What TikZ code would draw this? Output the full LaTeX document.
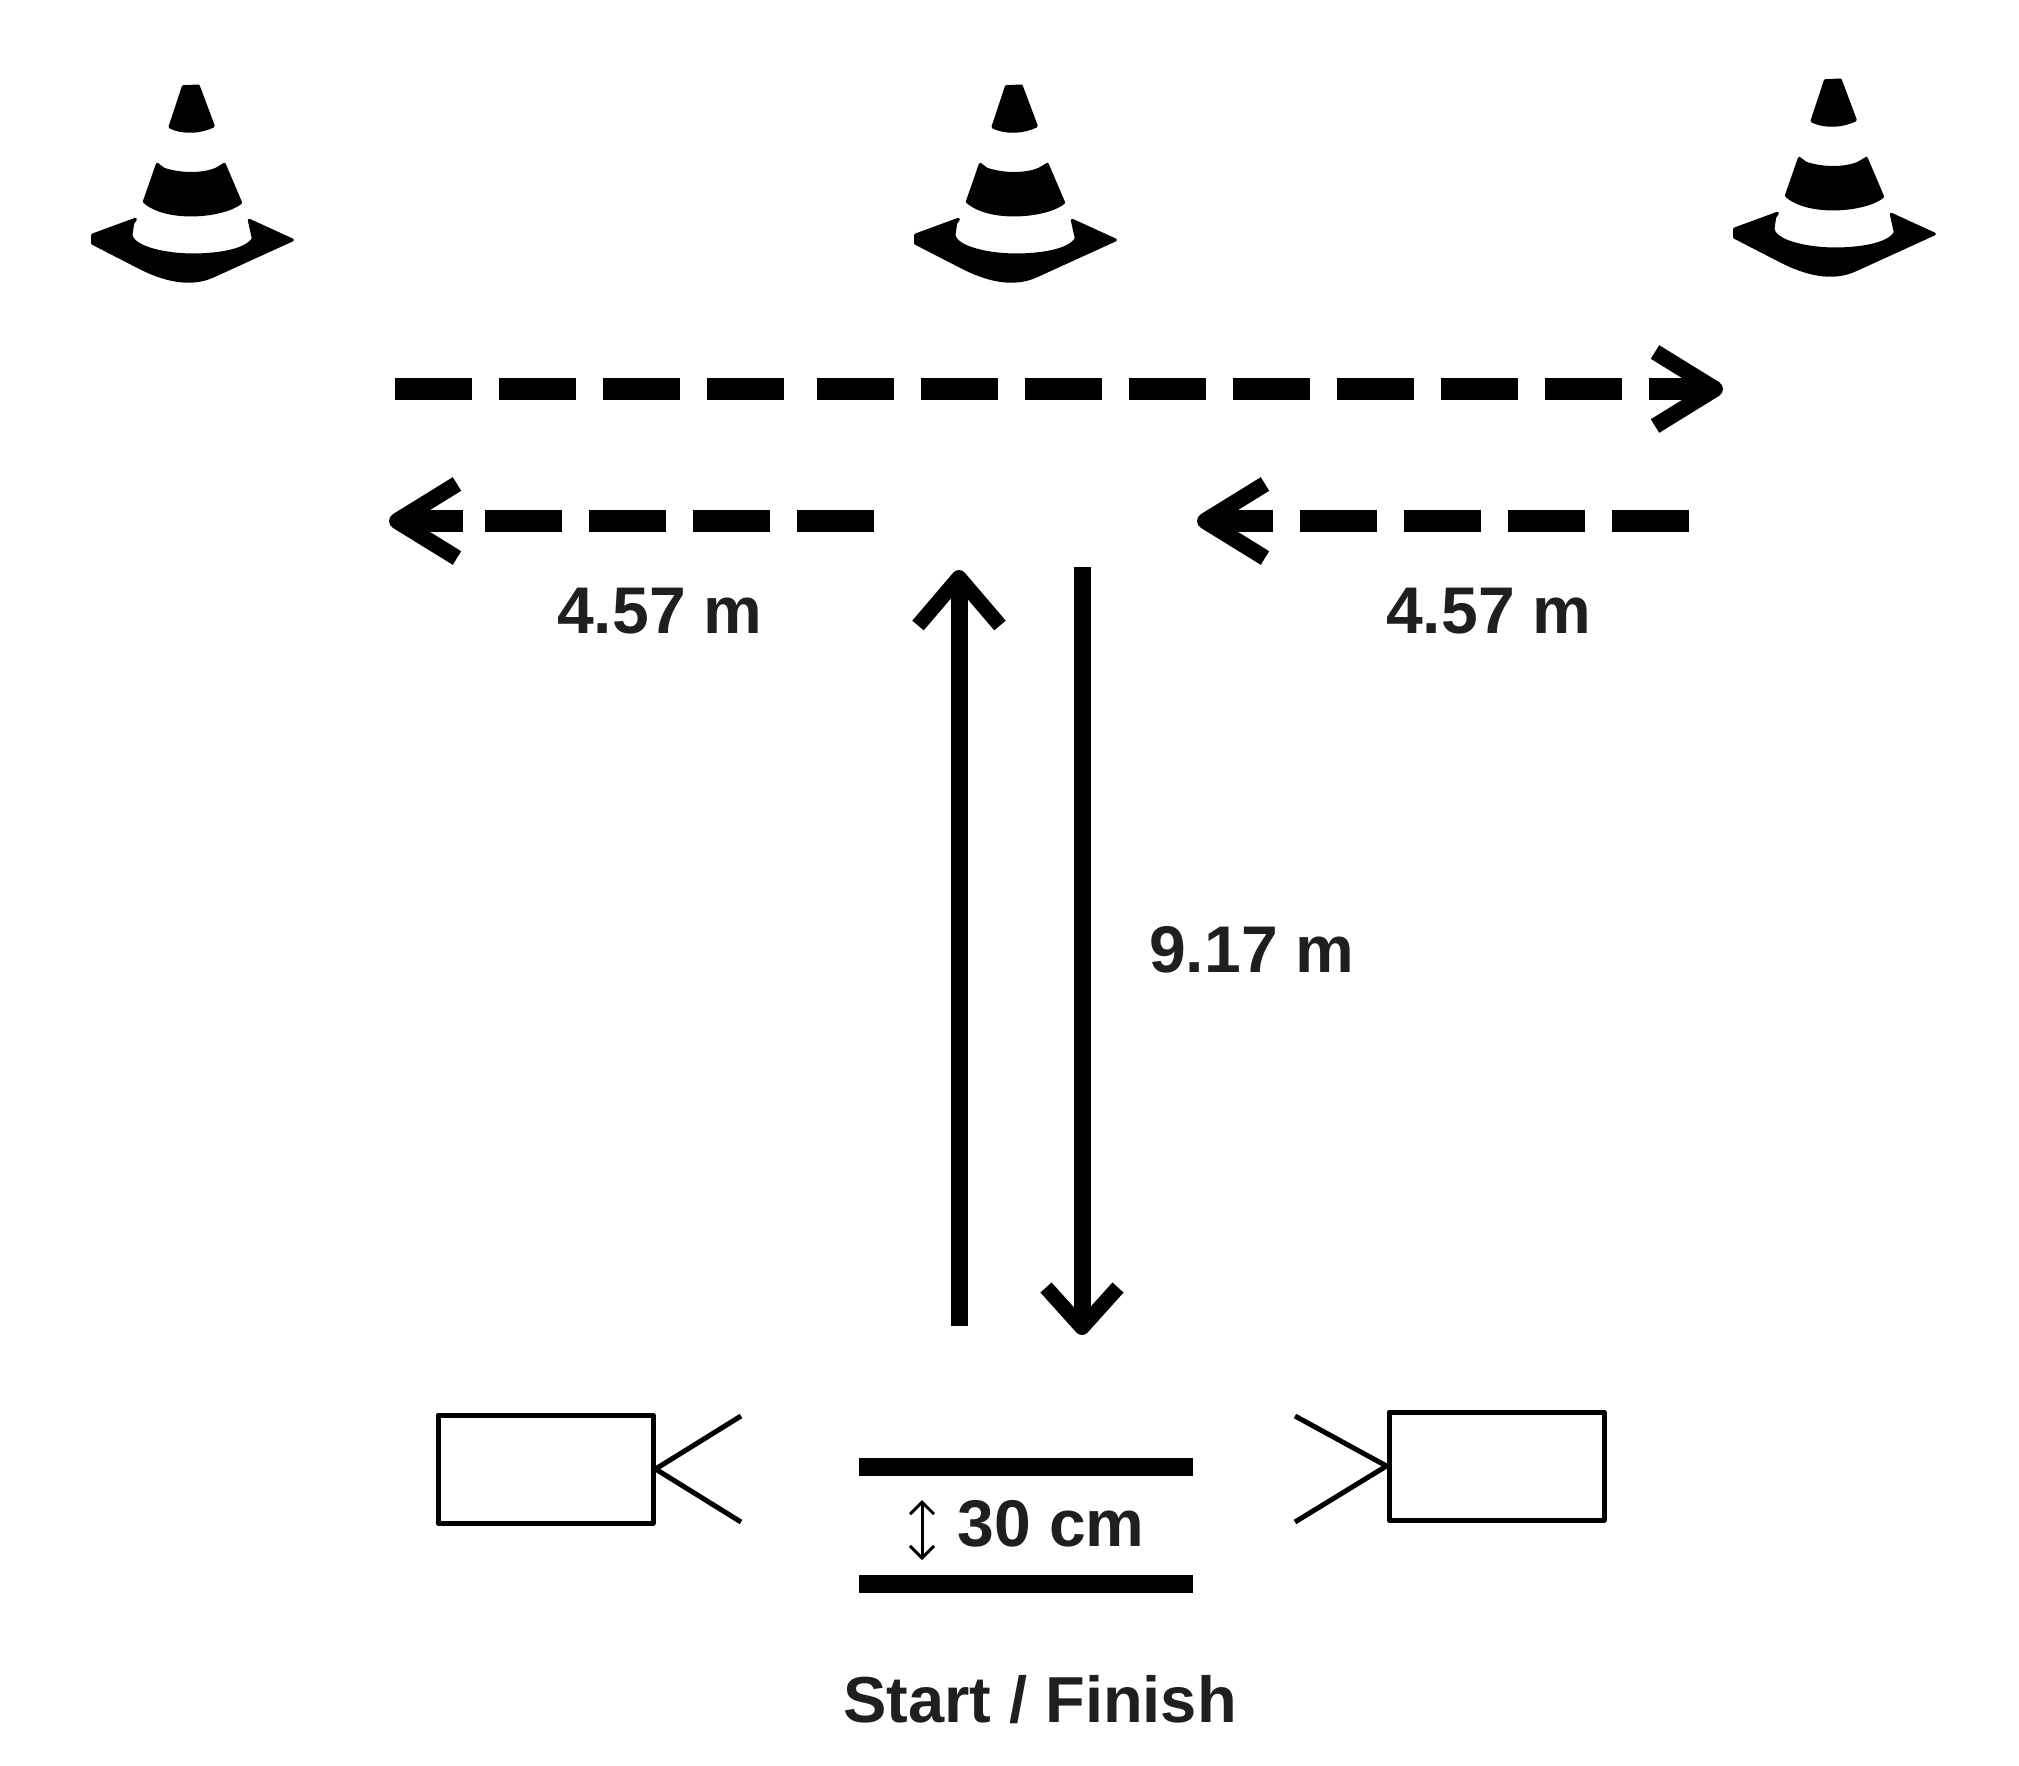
\documentclass[tikz,border=0pt]{standalone}
\usepackage{fontspec}
\setmainfont{Liberation Sans}
\usetikzlibrary{arrows.meta}
\tikzset{
  lab/.style={font=\fontsize{66}{78}\selectfont\bfseries, text=black!88, anchor=base, inner sep=0pt},
  labsf/.style={font=\fontsize{65}{78}\selectfont\bfseries, text=black!88, anchor=base, inner sep=0pt},
  dashline/.style={line width=22pt, draw=black},
  flow/.style={line width=17pt, draw=black},
  hbar/.style={line width=18pt, draw=black},
  cam/.style={draw=black, line width=5pt, minimum width=215pt, minimum height=108pt, inner sep=0pt, line join=round},
  lens/.style={draw=black, line width=5pt},
  cone/.pic={
    \begin{scope}[xscale=0.3333,yscale=0.3333,line width=3pt,line join=round,fill=black,draw=black]
    \filldraw (340,80)--(385,78)--(430,198) .. controls (395,215) and (345,222) .. (300,201)--cycle;
    \filldraw (262,313)--(280,327) .. controls (330,345) and (400,345) .. (440,327)--(463,313)--(512,428) .. controls (460,470) and (290,485) .. (223,425)--cycle;
    \filldraw (196,478)--(68,525)--(68,550)--(200,618) .. controls (280,660) and (360,680) .. (430,648)--(667,540)--(538,481)--(550,535) .. controls (530,575) and (430,585) .. (370,585) .. controls (290,585) and (190,565) .. (183,525)--(188,490)--cycle;
    \end{scope}
  }
}
\begin{document}
\begin{tikzpicture}[x=1pt,y=-1pt]
\useasboundingbox (0,0) rectangle (2019,1766);
\fill[white] (0,0) rectangle (2019,1766);
\pic (c1) at (70,60) {cone};
\pic (c2) at (893,60) {cone};
\pic (c3) at (1712,54) {cone};

\coordinate (ta) at (395,389);
\coordinate (tb) at (1723,389);
\draw[dashline, dash pattern=on 77pt off 27pt on 77pt off 27pt on 77pt off 27pt on 77pt off 33pt on 77pt off 27pt on 77pt off 27pt on 77pt off 27pt on 77pt off 27pt on 77pt off 27pt on 77pt off 27pt on 77pt off 27pt on 77pt off 27pt on 200pt,
  -{Straight Barb[line width=16pt,line join=round,length=60pt,width=74pt]}] (ta) -- (tb);

\coordinate (la) at (874,521);
\coordinate (lb) at (389,521);
\draw[dashline, dash pattern=on 77pt off 27pt on 77pt off 27pt on 77pt off 27pt on 77pt off 22pt on 200pt,
  -{Straight Barb[line width=16pt,line join=round,length=60pt,width=74pt]}] (la) -- (lb);

\coordinate (ra) at (1689,521);
\coordinate (rb) at (1197,521);
\draw[dashline, dash pattern=on 77pt off 27pt on 77pt off 27pt on 77pt off 27pt on 77pt off 27pt on 200pt,
  -{Straight Barb[line width=16pt,line join=round,length=60pt,width=74pt]}] (ra) -- (rb);

\coordinate (ua) at (959,1326);
\coordinate (ub) at (959,570);
\draw[flow,-{Straight Barb[line width=15pt,line join=round,length=48pt,width=82pt]}] (ua) -- (ub);
\coordinate (da) at (1082,567);
\coordinate (db) at (1082,1335);
\draw[flow,-{Straight Barb[line width=15pt,line join=round,length=40pt,width=72pt]}] (da) -- (db);

\node[lab] (t1) at (660,633) {4.57 m};
\node[lab] (t2) at (1489,633) {4.57 m};
\node[lab] (t3) at (1252,972) {9.17 m};
\node[lab] (t4) at (1051,1546) {30 cm};
\node[labsf] (t5) at (1040,1722) {Start / Finish};

\coordinate (b1a) at (859,1467);
\coordinate (b1b) at (1193,1467);
\coordinate (b2a) at (859,1584);
\coordinate (b2b) at (1193,1584);
\draw[hbar] (b1a) -- (b1b);
\draw[hbar] (b2a) -- (b2b);
\coordinate (ga) at (922,1500);
\coordinate (gb) at (922,1560);
\draw[line width=3pt,{Straight Barb[length=12pt,width=24pt]}-{Straight Barb[length=12pt,width=24pt]}] (ga) -- (gb);

\node[cam] (camL) at (545.5,1469) {};
\node[cam] (camR) at (1496.5,1466) {};
\coordinate (l1) at (741,1416);
\coordinate (l2) at (741,1522);
\coordinate (r1) at (1295,1416);
\coordinate (r2) at (1295,1522);
\draw[lens] (l1) -- (camL.east) -- (l2);
\draw[lens] (r1) -- (camR.west) -- (r2);
\end{tikzpicture}
\end{document}
